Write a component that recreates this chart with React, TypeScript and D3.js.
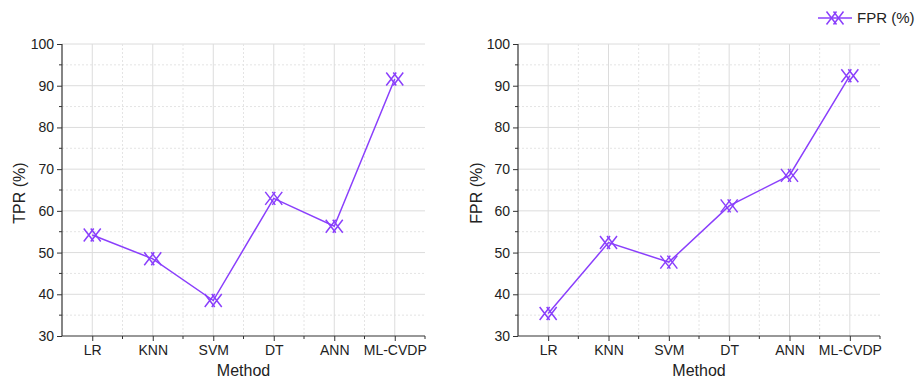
import React, { useEffect, useRef } from "react";
import * as d3 from "d3";

const methods = ["LR", "KNN", "SVM", "DT", "ANN", "ML-CVDP"];
const tprValues = [54.2, 48.5, 38.5, 63.0, 56.3, 91.6];
const fprValues = [35.4, 52.4, 47.7, 61.2, 68.5, 92.4];
const yTicks = [30, 40, 50, 60, 70, 80, 90, 100];

const color = "#8a3ffc";

export default function App() {
  const ref = useRef<SVGSVGElement>(null);

  useEffect(() => {
    const svg = d3.select(ref.current);
    svg.selectAll("*").remove();
    const font = "'Liberation Sans', Arial, sans-serif";

    const panels = [
      { x0: 62, x1: 425, values: tprValues, title: "TPR (%)", titleX: 21 },
      { x0: 518, x1: 880, values: fprValues, title: "FPR (%)", titleX: 478 },
    ];
    const top = 44;
    const bottom = 336;

    // hollow double-cross marker
    const marker = (g: any, cx: number, cy: number) => {
      const m = g.append("g").attr("transform", `translate(${cx},${cy})`);
      [-3.5, 3.5].forEach((dx) => {
        m.append("path")
          .attr("d", `M${dx - 5},-6.5L${dx + 5},6.5M${dx - 5},6.5L${dx + 5},-6.5`)
          .attr("stroke", color)
          .attr("stroke-width", 1.5)
          .attr("fill", "none");
      });
    };

    panels.forEach((p) => {
      const x = d3.scaleLinear().domain([-0.5, methods.length - 0.5]).range([p.x0, p.x1]);
      const y = d3.scaleLinear().domain([30, 100]).range([bottom, top]);
      const g = svg.append("g");

      // grid
      const minorY = d3.range(35, 100, 10);
      g.selectAll(".gmy").data(minorY).enter().append("line")
        .attr("x1", p.x0).attr("x2", p.x1)
        .attr("y1", (d) => y(d)).attr("y2", (d) => y(d))
        .attr("stroke", "#e4e4e4").attr("stroke-dasharray", "2,2");
      g.selectAll(".gMy").data(yTicks.slice(1)).enter().append("line")
        .attr("x1", p.x0).attr("x2", p.x1)
        .attr("y1", (d) => y(d)).attr("y2", (d) => y(d))
        .attr("stroke", "#dcdcdc").attr("stroke-width", 1);
      const minorX = d3.range(0.5, methods.length - 0.5, 1);
      g.selectAll(".gmx").data(minorX).enter().append("line")
        .attr("x1", (d) => x(d)).attr("x2", (d) => x(d))
        .attr("y1", top).attr("y2", bottom)
        .attr("stroke", "#e4e4e4").attr("stroke-dasharray", "2,2");
      g.selectAll(".gMx").data(methods).enter().append("line")
        .attr("x1", (d, i) => x(i)).attr("x2", (d, i) => x(i))
        .attr("y1", top).attr("y2", bottom)
        .attr("stroke", "#dcdcdc").attr("stroke-width", 1);

      // axes
      const yAxis = d3.axisLeft(y).tickValues(yTicks).tickSize(5).tickPadding(3);
      const ya = g.append("g").attr("transform", `translate(${p.x0},0)`).call(yAxis);
      ya.selectAll(".tick text").attr("font-size", 14).attr("font-family", font).attr("fill", "#222");
      ya.selectAll("path, line").attr("stroke", "#333");
      ya.select(".domain").attr("d", `M0,${top}V${bottom}`).attr("stroke-width", 1.2);
      g.selectAll(".my").data(minorY).enter().append("line")
        .attr("x1", p.x0 - 3).attr("x2", p.x0)
        .attr("y1", (d) => y(d)).attr("y2", (d) => y(d))
        .attr("stroke", "#333");

      const xAxis = d3.axisBottom(x)
        .tickValues(d3.range(methods.length))
        .tickFormat((d: any) => methods[d])
        .tickSize(5).tickPadding(4);
      const xa = g.append("g").attr("transform", `translate(0,${bottom})`).call(xAxis);
      xa.selectAll(".tick text").attr("font-size", 14).attr("font-family", font).attr("fill", "#222");
      xa.selectAll("path, line").attr("stroke", "#333");
      xa.select(".domain").attr("d", `M${p.x0},0H${p.x1}`).attr("stroke-width", 1.2);
      g.selectAll(".mx").data(minorX.concat([methods.length - 0.5])).enter().append("line")
        .attr("x1", (d) => x(d)).attr("x2", (d) => x(d))
        .attr("y1", bottom).attr("y2", bottom + 3)
        .attr("stroke", "#333");

      // titles
      g.append("text")
        .attr("transform", `translate(${p.titleX},${(top + bottom) / 2 + 3}) rotate(-90)`)
        .attr("text-anchor", "middle").attr("dominant-baseline", "middle")
        .attr("font-size", 16).attr("font-family", font).attr("fill", "#222")
        .text(p.title);
      g.append("text")
        .attr("x", (p.x0 + p.x1) / 2).attr("y", 376)
        .attr("text-anchor", "middle")
        .attr("font-size", 16).attr("font-family", font).attr("fill", "#222")
        .text("Method");

      // line + markers
      const line = d3.line<number>().x((d, i) => x(i)).y((d) => y(d));
      g.append("path").datum(p.values)
        .attr("d", line).attr("fill", "none")
        .attr("stroke", color).attr("stroke-width", 1.5);
      p.values.forEach((v, i) => marker(g, x(i), y(v)));
    });

    // legend
    const lg = svg.append("g");
    lg.append("line").attr("x1", 818).attr("x2", 852).attr("y1", 18).attr("y2", 18)
      .attr("stroke", color).attr("stroke-width", 1.5);
    marker(lg, 835, 18);
    lg.append("text").attr("x", 857).attr("y", 23)
      .attr("font-size", 15).attr("font-family", font).attr("fill", "#222")
      .text("FPR (%)");
  }, []);

  return (
    <svg
      ref={ref}
      width={917}
      height={381}
      style={{ position: "absolute", left: 0, top: 0, background: "#fff" }}
    />
  );
}
